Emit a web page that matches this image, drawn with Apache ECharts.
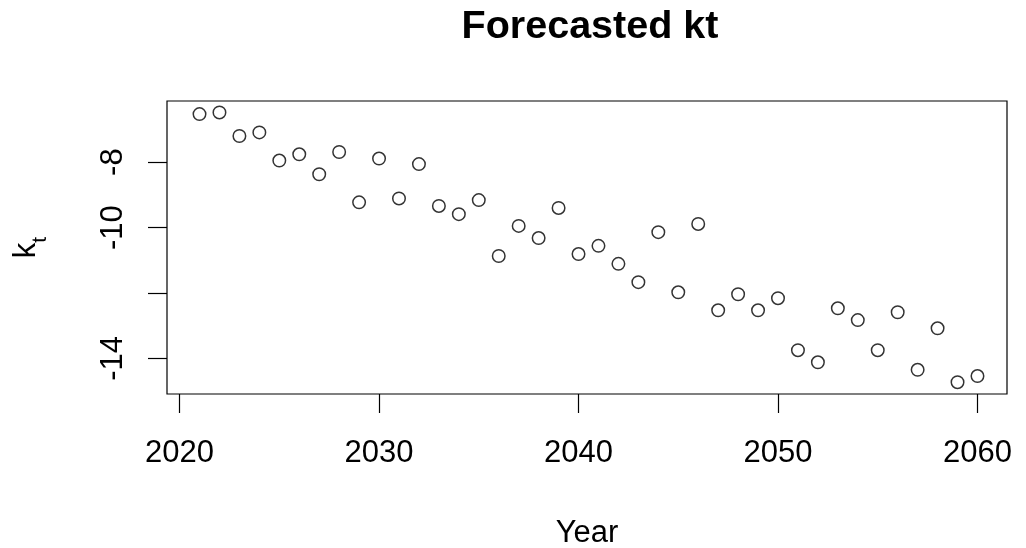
<!DOCTYPE html>
<html>
<head>
<meta charset="utf-8">
<script src="https://cdn.jsdelivr.net/npm/echarts@6/dist/echarts.min.js"></script>
<style>html,body{margin:0;padding:0;background:#fff}#c{width:1026px;height:548px}</style>
</head>
<body>
<div id="c"></div>
<script>
var years = [2021,2022,2023,2024,2025,2026,2027,2028,2029,2030,2031,2032,2033,2034,2035,2036,2037,2038,2039,2040,2041,2042,2043,2044,2045,2046,2047,2048,2049,2050,2051,2052,2053,2054,2055,2056,2057,2058,2059,2060];
var kt = [-6.53,-6.48,-7.20,-7.09,-7.95,-7.76,-8.37,-7.69,-9.23,-7.89,-9.11,-8.06,-9.34,-9.59,-9.16,-10.87,-9.95,-10.32,-9.40,-10.81,-10.56,-11.11,-11.67,-10.14,-11.98,-9.89,-12.53,-12.04,-12.53,-12.16,-13.75,-14.12,-12.47,-12.83,-13.75,-12.59,-14.35,-13.08,-14.73,-14.54];
var xTicks = [2020,2030,2040,2050,2060];
var yTicks = [-8,-10,-12,-14];
var yLabels = [-8,-10,-14];

var pts = years.map(function(y,i){return [y,kt[i]];});
var font = 'Liberation Sans, Arial, sans-serif';
var chart = echarts.init(document.getElementById('c'), null, {renderer:'canvas'});
chart.setOption({
  animation:false,
  backgroundColor:'#fff',
  title:{
    text:'Forecasted kt', left:585, top:2, textAlign:'center',
    textStyle:{fontFamily:font, fontWeight:'bold', fontSize:39.5, color:'#000'}
  },
  grid:{left:167, right:19, top:101, bottom:154, show:true, borderColor:'#000', borderWidth:1.2,
    backgroundColor:'transparent', outerBoundsMode:'none', containLabel:false},
  xAxis:{
    type:'value', min:2019.37, max:2061.48,
    name:'Year', nameLocation:'middle', nameGap:124,
    nameTextStyle:{fontFamily:font, fontSize:31, color:'#000'},
    splitLine:{show:false},
    axisLine:{show:false},
    axisTick:{show:true, length:19, lineStyle:{color:'#000', width:1.2}, customValues:xTicks},
    axisLabel:{fontFamily:font, fontSize:31, color:'#000', margin:44, customValues:xTicks,
      formatter:function(v){return String(v);}}
  },
  yAxis:{
    type:'value', min:-15.09, max:-6.13,
    name:'{k|k}{t|t}', nameLocation:'middle', nameGap:116, nameRotate:90,
    nameTextStyle:{rich:{
      k:{fontFamily:font, fontSize:31, color:'#000', verticalAlign:'top', lineHeight:40},
      t:{fontFamily:font, fontSize:21, color:'#000', verticalAlign:'bottom', lineHeight:40}
    }},
    splitLine:{show:false},
    axisLine:{show:false},
    axisTick:{show:true, length:19, lineStyle:{color:'#000', width:1.2}, customValues:yTicks},
    axisLabel:{fontFamily:font, fontSize:31, color:'#000', margin:38, rotate:90, customValues:yLabels,
      formatter:function(v){return String(v);}}
  },
  series:[{
    type:'scatter', data:pts, symbol:'circle', symbolSize:12.5,
    itemStyle:{color:'transparent', borderColor:'#000', borderWidth:1.5}
  }]
});
</script>
</body>
</html>
